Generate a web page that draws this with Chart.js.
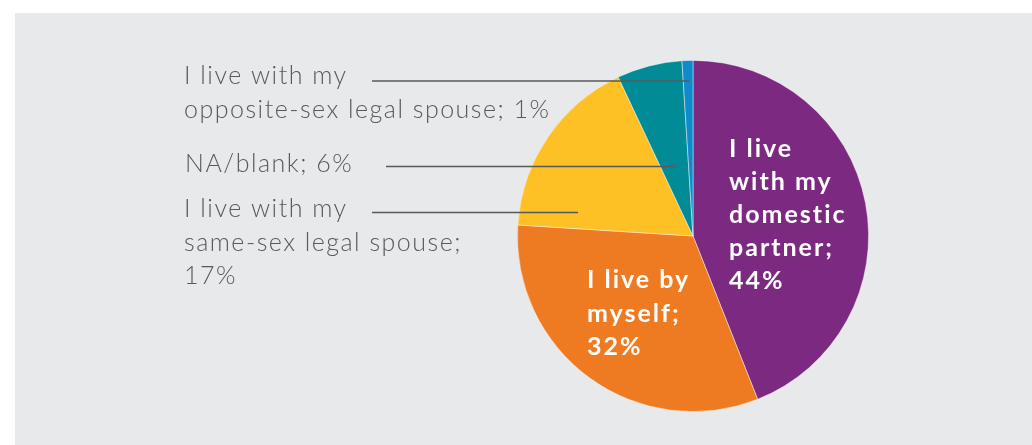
<!DOCTYPE html>
<html>
<head>
<meta charset="utf-8">
<script src="https://cdn.jsdelivr.net/npm/chart.js@4"></script>
<style>
  html, body { margin: 0; padding: 0; background: #ffffff; }
  #wrap { position: relative; width: 1032px; height: 445px; }
  #bg { position: absolute; left: 15px; top: 13px; right: 0; bottom: 0; background: #e8e9eb; }
  canvas { position: absolute; left: 0; top: 0; }
</style>
</head>
<body>
<div id="wrap">
  <div id="bg"></div>
  <canvas id="c" width="1032" height="445"></canvas>
</div>
<script>
const categories = [
  "I live with my domestic partner",
  "I live by myself",
  "I live with my same-sex legal spouse",
  "NA/blank",
  "I live with my opposite-sex legal spouse"
];
const values = [44, 32, 17, 6, 1];
const colors = ["#7b2981", "#ee7a22", "#fdc125", "#008b97", "#0f8bcb"];

// Inside labels (white, bold): lines per slice
const insideLabels = {
  0: ["I live", "with my", "domestic", "partner;", "44%"],
  1: ["I live by", "myself;", "32%"]
};
// Outside labels (grey) with leader lines
const outsideLabels = {
  4: ["I live with my", "opposite-sex legal spouse; 1%"],
  3: ["NA/blank; 6%"],
  2: ["I live with my", "same-sex legal spouse;", "17%"]
};

const labelPlugin = {
  id: 'labelPlugin',
  afterDatasetsDraw(chart) {
    const ctx = chart.ctx;
    const meta = chart.getDatasetMeta(0);
    const arc0 = meta.data[0];
    const cx = arc0.x, cy = arc0.y;
    ctx.save();
    // inside labels
    ctx.fillStyle = '#ffffff';
    ctx.font = 'bold 25px Lato, "Open Sans", sans-serif';
    ctx.letterSpacing = '2px';
    ctx.textAlign = 'left';
    ctx.textBaseline = 'alphabetic';
    const inPos = { 0: { dx: 36, dy: -79, lh: 33 }, 1: { dx: -106, dy: 52, lh: 33.5 } };
    Object.keys(insideLabels).forEach(k => {
      const p = inPos[k];
      insideLabels[k].forEach((t, i) => ctx.fillText(t, cx + p.dx, cy + p.dy + i * p.lh));
    });
    // outside labels
    ctx.fillStyle = '#58595b';
    ctx.font = '300 25px Lato, "Open Sans", sans-serif';
    ctx.letterSpacing = '1.5px';
    const outPos = {
      4: { x: 184, y: 84, lh: 34, lineY: 81, lineX: 372, f: 0.6 },
      3: { x: 185, y: 172, lh: 34, lineY: 166.5, lineX: 386, f: 0.5 },
      2: { x: 184, y: 217, lh: 33.5, lineY: 212.5, lineX: 372, f: 0.13 }
    };
    ctx.strokeStyle = '#58595b';
    ctx.lineWidth = 1.5;
    Object.keys(outsideLabels).forEach(k => {
      const p = outPos[k];
      outsideLabels[k].forEach((t, i) => ctx.fillText(t, p.x, p.y + i * p.lh));
      const a = meta.data[k];
      const ang = a.startAngle + p.f * (a.endAngle - a.startAngle);
      const dy = p.lineY - cy;
      const ex = cx + dy / Math.tan(ang);
      ctx.beginPath();
      ctx.moveTo(p.lineX, p.lineY);
      ctx.lineTo(ex, p.lineY);
      ctx.stroke();
    });
    ctx.restore();
  }
};

new Chart(document.getElementById('c'), {
  type: 'pie',
  data: {
    labels: categories,
    datasets: [{
      data: values,
      backgroundColor: colors,
      borderColor: 'rgba(255,255,255,0.55)',
      borderWidth: 0.8
    }]
  },
  options: {
    responsive: false,
    animation: false,
    layout: { padding: { left: 517, right: 163, top: 60, bottom: 33 } },
    plugins: { legend: { display: false }, tooltip: { enabled: false } }
  },
  plugins: [labelPlugin]
});
</script>
</body>
</html>
